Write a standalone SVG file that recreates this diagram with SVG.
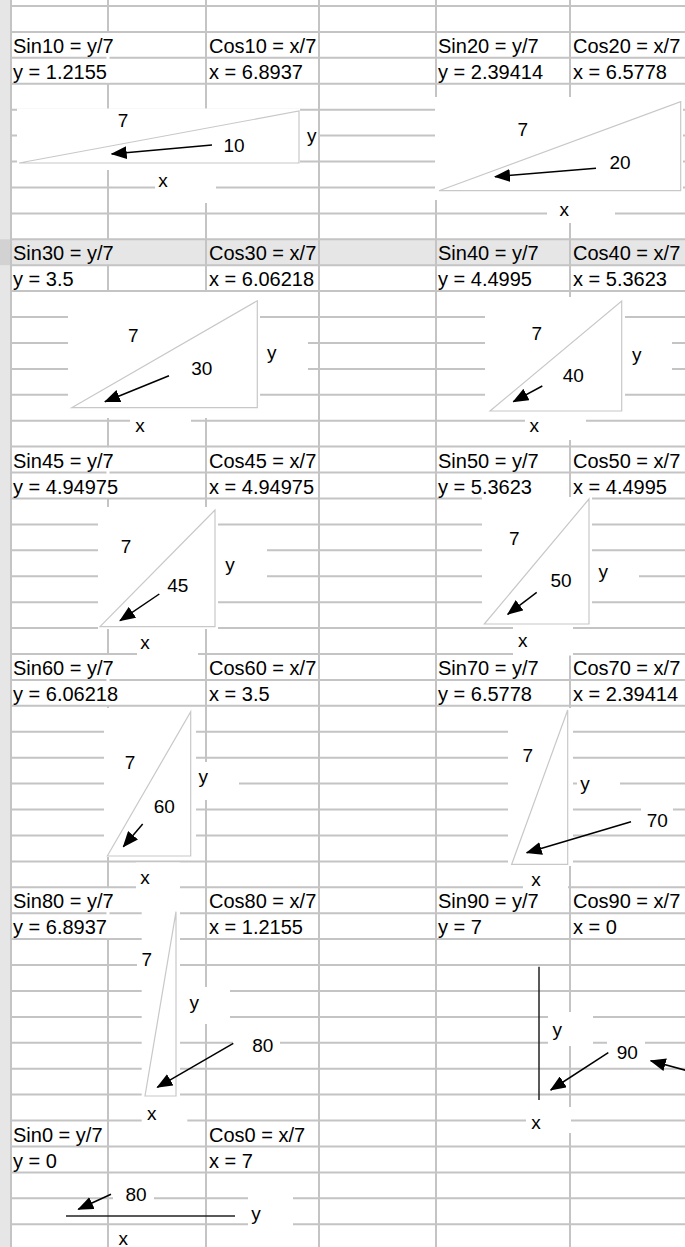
<svg xmlns="http://www.w3.org/2000/svg" width="685" height="1247" viewBox="0 0 685 1247">
<style>
.grid{stroke:#c4c4c4;stroke-width:2;fill:none}
.m{fill:#ffffff}
.t{font-family:"Liberation Sans",Arial,sans-serif;font-size:20px;fill:#000}
.l{font-family:"Liberation Sans",Arial,sans-serif;font-size:19px;fill:#000;text-anchor:middle}
.tri{fill:none;stroke:#c8c8c8;stroke-width:1.2}
.arr{stroke:#000;stroke-width:1.5;fill:none;marker-end:url(#ah)}
.bar{stroke:#222;stroke-width:1.5}
</style>
<defs>
<marker id="ah" markerUnits="userSpaceOnUse" markerWidth="16" markerHeight="13" viewBox="0 0 16 13" refX="15" refY="6.5" orient="auto">
<path d="M0,0 L16,6.5 L0,13 Z" fill="#000"/>
</marker>
</defs>
<rect x="0" y="0" width="685" height="1247" fill="#fff"/>
<rect x="0" y="0" width="10" height="1247" fill="#e6e6e6"/>
<rect x="0" y="239.3" width="10" height="25.9" fill="#d2d2d2"/>
<rect x="11" y="239.3" width="674" height="25.9" fill="#e6e6e6"/>
<g id="grid">
<path class="grid" d="M11,6H685M11,31.9H685M11,57.8H685M11,83.8H685M11,109.7H685M11,135.6H685M11,161.5H685M11,187.4H685M11,213.4H685M11,239.3H685M11,265.2H685M11,291.1H685M11,317H685M11,343H685M11,368.9H685M11,394.8H685M11,420.7H685M11,446.6H685M11,472.6H685M11,498.5H685M11,524.4H685M11,550.3H685M11,576.2H685M11,602.2H685M11,628.1H685M11,654H685M11,679.9H685M11,705.8H685M11,731.8H685M11,757.7H685M11,783.6H685M11,809.5H685M11,835.4H685M11,861.4H685M11,887.3H685M11,913.2H685M11,939.1H685M11,965H685M11,991H685M11,1016.9H685M11,1042.8H685M11,1068.7H685M11,1094.6H685M11,1120.6H685M11,1146.5H685M11,1172.4H685M11,1198.3H685M11,1224.2H685"/>
<path class="grid" d="M11,0V1247M108,0V1247M206,0V1247M319,0V1247M436,0V1247M570,0V1247"/>
</g>
<g id="overflow-masks">
<rect class="m" x="106.5" y="33" width="3" height="49.8"/>
<rect x="106.5" y="240.3" width="3" height="23.9" fill="#e6e6e6"/>
<rect class="m" x="106.5" y="447.6" width="3" height="49.9"/>
<rect class="m" x="106.5" y="655" width="3" height="49.8"/>
<rect class="m" x="106.5" y="888.3" width="3" height="49.8"/>
</g>
<g id="cells">
<text class="t" x="13" y="52.9">Sin10 = y/7</text>
<text class="t" x="209" y="52.9">Cos10 = x/7</text>
<text class="t" x="13" y="78.8">y = 1.2155</text>
<text class="t" x="209" y="78.8">x = 6.8937</text>
<text class="t" x="438" y="52.9">Sin20 = y/7</text>
<text class="t" x="573" y="52.9">Cos20 = x/7</text>
<text class="t" x="438" y="78.8">y = 2.39414</text>
<text class="t" x="573" y="78.8">x = 6.5778</text>
<text class="t" x="13" y="260.3">Sin30 = y/7</text>
<text class="t" x="209" y="260.3">Cos30 = x/7</text>
<text class="t" x="13" y="286.2">y = 3.5</text>
<text class="t" x="209" y="286.2">x = 6.06218</text>
<text class="t" x="438" y="260.3">Sin40 = y/7</text>
<text class="t" x="573" y="260.3">Cos40 = x/7</text>
<text class="t" x="438" y="286.2">y = 4.4995</text>
<text class="t" x="573" y="286.2">x = 5.3623</text>
<text class="t" x="13" y="467.6">Sin45 = y/7</text>
<text class="t" x="209" y="467.6">Cos45 = x/7</text>
<text class="t" x="13" y="493.6">y = 4.94975</text>
<text class="t" x="209" y="493.6">x = 4.94975</text>
<text class="t" x="438" y="467.6">Sin50 = y/7</text>
<text class="t" x="573" y="467.6">Cos50 = x/7</text>
<text class="t" x="438" y="493.6">y = 5.3623</text>
<text class="t" x="573" y="493.6">x = 4.4995</text>
<text class="t" x="13" y="675">Sin60 = y/7</text>
<text class="t" x="209" y="675">Cos60 = x/7</text>
<text class="t" x="13" y="700.9">y = 6.06218</text>
<text class="t" x="209" y="700.9">x = 3.5</text>
<text class="t" x="438" y="675">Sin70 = y/7</text>
<text class="t" x="573" y="675">Cos70 = x/7</text>
<text class="t" x="438" y="700.9">y = 6.5778</text>
<text class="t" x="573" y="700.9">x = 2.39414</text>
<text class="t" x="13" y="908.3">Sin80 = y/7</text>
<text class="t" x="209" y="908.3">Cos80 = x/7</text>
<text class="t" x="13" y="934.2">y = 6.8937</text>
<text class="t" x="209" y="934.2">x = 1.2155</text>
<text class="t" x="438" y="908.3">Sin90 = y/7</text>
<text class="t" x="573" y="908.3">Cos90 = x/7</text>
<text class="t" x="438" y="934.2">y = 7</text>
<text class="t" x="573" y="934.2">x = 0</text>
<text class="t" x="13" y="1141.6">Sin0 = y/7</text>
<text class="t" x="209" y="1141.6">Cos0 = x/7</text>
<text class="t" x="13" y="1167.5">y = 0</text>
<text class="t" x="209" y="1167.5">x = 7</text>
</g>
<g id="tri10">
<rect class="m" x="17" y="108.5" width="283" height="61.5"/>
<rect class="m" x="300" y="118" width="18" height="40"/>
<rect class="m" x="155" y="170" width="61" height="33"/>
<polygon class="tri" points="19,163 299,111 299,163"/>
<text class="l" x="123" y="127">7</text>
<text class="l" x="234" y="151.5">10</text>
<text class="l" x="311.7" y="141.5">y</text>
<text class="l" x="163" y="187">x</text>
</g>
<g id="tri20">
<rect class="m" x="435" y="97" width="248" height="103"/>
<rect class="m" x="547" y="200" width="68" height="23"/>
<polygon class="tri" points="439,190.7 680.7,101.7 680.7,190.7"/>
<text class="l" x="522.7" y="135.5">7</text>
<text class="l" x="620" y="169">20</text>
<text class="l" x="564.3" y="216">x</text>
</g>
<g id="tri30">
<rect class="m" x="68" y="292" width="192" height="126"/>
<rect class="m" x="260" y="322" width="48" height="68"/>
<rect class="m" x="130" y="418" width="61" height="27"/>
<polygon class="tri" points="71.7,407.7 257.3,300.7 257.3,407.7"/>
<text class="l" x="133.3" y="341.5">7</text>
<text class="l" x="201.7" y="374.5">30</text>
<text class="l" x="271.7" y="358.5">y</text>
<text class="l" x="140" y="432">x</text>
</g>
<g id="tri40">
<rect class="m" x="485" y="297" width="140" height="115"/>
<rect class="m" x="625" y="325" width="47" height="63"/>
<rect class="m" x="525" y="412" width="61" height="28"/>
<polygon class="tri" points="490,411 621.7,301 621.7,411"/>
<text class="l" x="536.7" y="339.5">7</text>
<text class="l" x="573.3" y="382">40</text>
<text class="l" x="636.7" y="360.5">y</text>
<text class="l" x="534.3" y="432">x</text>
</g>
<g id="tri45">
<rect class="m" x="98" y="507" width="120" height="122"/>
<rect class="m" x="218" y="538" width="49" height="54"/>
<rect class="m" x="137" y="629" width="61" height="31"/>
<polygon class="tri" points="100,626.7 215,510 215,626.7"/>
<text class="l" x="126" y="553">7</text>
<text class="l" x="177.7" y="592">45</text>
<text class="l" x="230" y="570.5">y</text>
<text class="l" x="145" y="648.5">x</text>
</g>
<g id="tri50">
<rect class="m" x="482" y="497" width="110" height="130"/>
<rect class="m" x="592" y="560" width="47" height="40"/>
<rect class="m" x="513" y="627" width="60" height="28.5"/>
<polygon class="tri" points="484.3,624 589,499 589,624"/>
<text class="l" x="514.3" y="544.5">7</text>
<text class="l" x="561" y="586.5">50</text>
<text class="l" x="603.3" y="577.5">y</text>
<text class="l" x="522.7" y="646.5">x</text>
</g>
<g id="tri60">
<rect class="m" x="104" y="708" width="92" height="149"/>
<rect class="m" x="196" y="762" width="43" height="38"/>
<rect class="m" x="136" y="862.5" width="44" height="30"/>
<polygon class="tri" points="107.3,856 190.7,711.7 190.7,856"/>
<text class="l" x="130" y="768.5">7</text>
<text class="l" x="164.3" y="812.5">60</text>
<text class="l" x="203.3" y="782.5">y</text>
<text class="l" x="145" y="883.5">x</text>
</g>
<g id="tri70">
<rect class="m" x="508" y="708" width="65" height="158"/>
<rect class="m" x="577" y="772" width="43" height="28"/>
<rect class="m" x="641" y="808" width="32" height="24"/>
<rect class="m" x="523" y="866" width="45" height="27"/>
<polygon class="tri" points="511.7,864.3 567.7,710 567.7,864.3"/>
<text class="l" x="527.7" y="762">7</text>
<text class="l" x="585" y="789.5">y</text>
<text class="l" x="657.3" y="826.5">70</text>
<text class="l" x="536" y="885.5">x</text>
</g>
<g id="tri80">
<rect class="m" x="141.7" y="889" width="38.3" height="208"/>
<rect class="m" x="137" y="948" width="13" height="30"/>
<rect class="m" x="180" y="987" width="50" height="37"/>
<rect class="m" x="233" y="1032" width="47" height="26"/>
<rect class="m" x="141.7" y="1097" width="45.6" height="36"/>
<polygon class="tri" points="176,911.7 145,1096 176,1096"/>
<text class="l" x="146.7" y="966">7</text>
<text class="l" x="194.3" y="1008.5">y</text>
<text class="l" x="262.7" y="1052">80</text>
<text class="l" x="151.7" y="1120">x</text>
</g>
<g id="tri90">
<rect class="m" x="548" y="1012" width="45" height="34"/>
<rect class="m" x="607" y="1040" width="38" height="24"/>
<rect class="m" x="526" y="1107" width="45" height="26"/>
<line class="bar" x1="539" y1="966.7" x2="539" y2="1100"/>
<text class="l" x="557.3" y="1035.5">y</text>
<text class="l" x="627.3" y="1058.5">90</text>
<text class="l" x="536" y="1129">x</text>
</g>
<g id="tri0">
<rect class="m" x="113" y="1186" width="41" height="24"/>
<rect class="m" x="248" y="1196" width="45" height="51"/>
<rect class="m" x="115" y="1226" width="19" height="21"/>
<line class="bar" x1="66" y1="1216" x2="235" y2="1216"/>
<text class="l" x="136" y="1201">80</text>
<text class="l" x="256" y="1219.5">y</text>
<text class="l" x="123.3" y="1244.5">x</text>
</g>
<g id="connectors">
<line class="arr" x1="212" y1="145" x2="111.7" y2="154"/>
<line class="arr" x1="596" y1="168.3" x2="495" y2="176.7"/>
<line class="arr" x1="169" y1="375.7" x2="105" y2="401.7"/>
<line class="arr" x1="542.3" y1="386" x2="513.3" y2="401.7"/>
<line class="arr" x1="159.3" y1="594" x2="120" y2="620.7"/>
<line class="arr" x1="536.7" y1="592.3" x2="507.7" y2="614.3"/>
<line class="arr" x1="142.7" y1="824" x2="123.3" y2="846.7"/>
<line class="arr" x1="631" y1="821.7" x2="526.7" y2="852.7"/>
<line class="arr" x1="233.3" y1="1043.3" x2="157.3" y2="1087.3"/>
<line class="arr" x1="608.3" y1="1052.7" x2="550.7" y2="1090"/>
<line class="arr" x1="690" y1="1071.5" x2="650.7" y2="1060.7"/>
<line class="arr" x1="111" y1="1194.3" x2="78.3" y2="1209.3"/>
</g>
</svg>
